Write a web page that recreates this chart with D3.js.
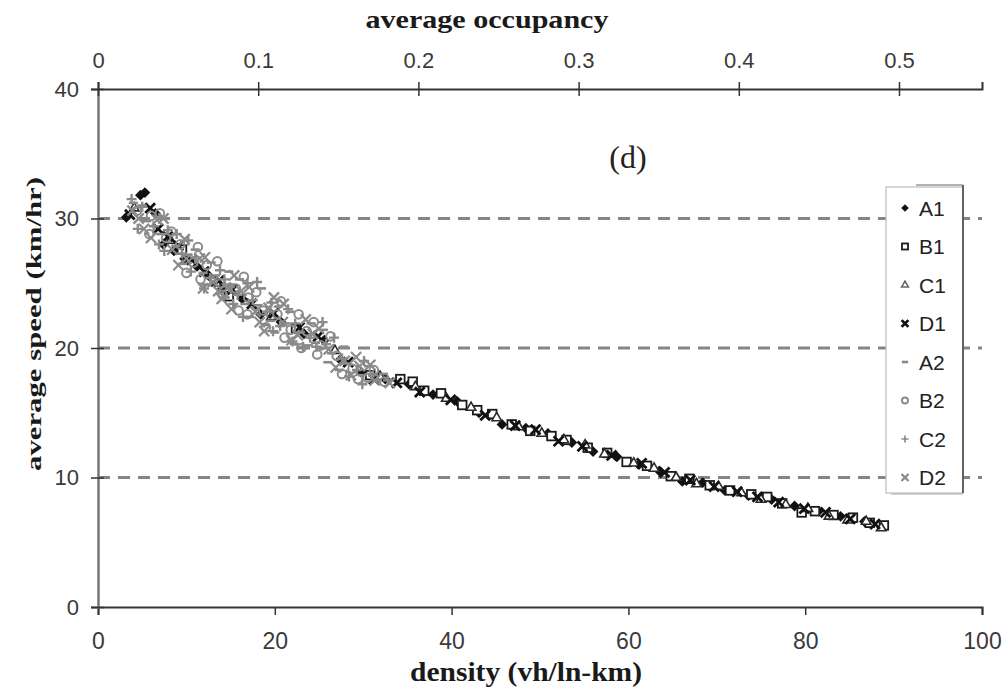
<!DOCTYPE html>
<html>
<head>
<meta charset="utf-8">
<script src="https://cdn.jsdelivr.net/npm/d3@7"></script>
<style>
  body { margin: 0; background: #fff; }
  .tick text { font-family: "Liberation Sans", Arial, sans-serif; fill: #3a3a3a; }
  .ttl { font-family: "Liberation Serif", "Times New Roman", serif; font-weight: bold; fill: #1a1a1a; }
</style>
</head>
<body>
<div id="chart"></div>
<script>
// density (vh/ln-km), speed (km/hr) pairs
var A1 = [[3.2,30.1],[4.8,31.8],[5.3,32.0],[6.5,30.4],[7.4,28.0],[8.6,27.5],[9.8,26.9],[11.2,26.3],[12.5,25.6],[14.1,24.6],
          [16.3,23.8],[18.4,22.6],[20.7,22.0],[23.3,21.1],[25.6,20.6],[27.4,19.1],[29.8,18.1],[32.5,17.6],[35.2,17.2],[37.9,16.4],
          [40.6,15.9],[43.1,15.0],[45.7,14.1],[48.4,13.8],[50.9,13.4],[53.6,12.7],[56.0,12.0],[58.7,11.6],[61.2,11.0],[63.5,10.5],
          [66.1,9.7],[68.4,9.6],[70.9,9.0],[73.6,8.6],[76.2,8.3],[78.8,7.8],[81.5,7.4],[84.0,7.0],[86.7,6.6]];
var B1 = [[9.5,27.6],[14.8,24.0],[22.4,21.5],[30.8,17.9],[34.2,17.6],[35.6,17.4],[36.9,16.7],[38.8,16.5],[41.2,15.6],[42.9,15.2],
          [44.6,14.9],[46.8,14.1],[48.9,13.6],[51.3,13.2],[53.0,12.9],[55.4,12.3],[57.6,11.9],[59.8,11.2],[62.1,10.9],[64.8,10.1],
          [66.9,9.9],[69.2,9.4],[71.5,9.0],[73.9,8.7],[75.7,8.5],[77.4,8.0],[79.6,7.3],[81.1,7.4],[83.2,7.1],[85.4,6.9],
          [87.3,6.5],[88.9,6.3]];
var C1 = [[4.1,30.8],[8.2,28.3],[13.4,25.0],[19.6,22.4],[26.8,19.8],[31.9,17.8],[35.9,17.0],[39.4,16.1],[42.2,15.4],[45.1,14.6],
          [47.6,13.9],[50.2,13.4],[52.7,12.9],[55.1,12.5],[57.3,11.8],[60.6,11.1],[62.9,10.7],[65.4,10.0],[67.7,9.5],[70.2,9.3],
          [72.8,8.8],[75.0,8.3],[77.8,7.9],[80.3,7.6],[82.7,7.0],[84.8,6.7],[86.9,6.6],[88.6,6.1]];
var D1 = [[3.6,30.3],[5.9,30.8],[6.8,29.2],[7.9,28.6],[9.1,27.9],[10.6,26.8],[12.0,25.9],[13.7,25.2],[15.2,24.5],[17.4,23.4],
          [19.9,22.7],[22.8,21.6],[24.9,20.9],[28.3,18.9],[31.2,17.6],[33.8,17.3],[36.4,16.6],[39.9,16.0],[43.8,14.8],[47.2,14.0],
          [49.5,13.7],[52.1,12.8],[54.8,12.4],[58.1,11.7],[61.5,11.1],[64.1,10.4],[67.0,9.8],[69.7,9.3],[72.3,8.9],[74.6,8.5],
          [77.0,8.1],[79.9,7.6],[82.3,7.3],[85.1,6.8],[87.9,6.4]];
var A2 = [[4.0,31.2],[5.5,29.8],[7.1,28.8],[8.8,27.9],[10.2,27.2],[11.9,25.8],[13.3,25.6],[15.0,24.9],[16.6,23.4],[18.1,23.3],
          [19.5,22.1],[21.2,21.9],[22.9,21.2],[24.6,20.4],[26.4,19.6],[28.1,18.8],[29.9,17.9],[31.6,17.5],
          [5.0,31.0],[9.6,26.5],[12.8,26.6],[14.4,23.9],[16.0,25.3],[18.9,21.8],[20.4,23.2],[23.8,20.2],[25.5,21.4],[27.3,18.3],[30.6,18.6],
          [11.0,27.6],[12.2,24.9],[14.8,25.9],[17.2,22.4],[18.5,24.6],[20.0,21.2],[21.7,22.8],[22.2,20.3],[24.1,21.9],[26.0,18.9],[27.8,20.1],[32.3,18.0]];
var B2 = [[4.4,30.6],[6.0,30.2],[7.7,28.5],[9.3,28.0],[10.8,26.6],[12.3,26.4],[13.9,25.0],[15.6,24.6],[17.0,23.9],[18.7,22.9],
          [20.3,22.6],[21.8,21.4],[23.6,21.3],[25.2,20.2],[27.0,19.4],[28.8,18.4],[30.5,17.7],[32.4,17.4],
          [5.8,28.8],[8.3,29.0],[11.6,25.3],[13.5,26.7],[16.9,22.6],[17.9,24.3],[21.1,20.8],[22.7,22.6],[24.8,19.5],[26.3,20.9],[29.4,17.6],
          [7.0,30.4],[10.0,25.8],[11.3,27.8],[14.1,24.1],[15.9,22.9],[16.5,25.5],[19.0,21.6],[20.7,23.6],[23.0,20.0],[24.4,22.0],[27.6,18.0],[31.2,18.3]];
var C2 = [[3.8,31.5],[5.0,30.9],[6.3,29.4],[7.9,29.1],[9.5,27.3],[11.0,27.0],[12.7,25.4],[14.3,25.3],[15.8,24.1],[17.5,23.7],
          [19.1,22.8],[20.6,21.7],[22.3,21.9],[24.0,20.8],[25.8,20.3],[27.6,19.2],[29.3,18.3],[31.1,17.9],[32.8,17.5],
          [6.9,28.0],[8.9,28.8],[10.5,25.9],[13.8,26.0],[15.3,23.4],[16.9,25.0],[19.8,21.3],[21.5,23.0],[23.2,20.1],[26.7,20.8],[28.4,17.8],[30.1,19.0],
          [4.5,29.2],[7.5,27.5],[10.2,28.3],[12.0,24.6],[14.9,24.7],[16.4,22.4],[18.0,25.1],[19.6,23.5],[22.0,20.5],[24.7,20.1],[25.4,22.0],[29.9,17.2]];
var D2 = [[4.6,30.0],[6.7,29.9],[8.4,27.6],[10.0,26.9],[11.5,26.9],[13.0,25.1],[14.6,24.6],[16.2,24.4],[17.8,22.8],[19.3,23.1],
          [20.9,22.0],[22.6,21.0],[24.3,21.1],[26.1,19.9],[27.9,19.0],[29.6,18.6],[31.3,17.5],[33.0,17.3],
          [5.2,29.2],[7.4,30.0],[9.1,26.4],[12.1,27.0],[14.0,23.8],[15.4,25.6],[18.3,22.0],[19.9,23.9],[21.9,20.6],[25.0,21.5],[28.6,17.9],[30.8,18.7],
          [3.9,30.6],[6.0,28.5],[9.8,28.4],[11.9,24.6],[13.6,24.4],[15.1,23.0],[17.1,24.7],[18.8,21.3],[21.0,23.4],[23.5,22.2],[26.9,18.5],[29.2,19.3]];

var seriesNames = ["A1","B1","C1","D1","A2","B2","C2","D2"];
var seriesData = [A1, B1, C1, D1, A2, B2, C2, D2];
var densityTicks = [0, 20, 40, 60, 80, 100];
var speedTicks = [0, 10, 20, 30, 40];
var gridTicks = [10, 20, 30];
var occTicks = [0, 0.1, 0.2, 0.3, 0.4, 0.5];

var W = 1007, H = 688;
var margin = {top: 89, right: 25, bottom: 81, left: 98};
var iw = W - margin.left - margin.right, ih = H - margin.top - margin.bottom;

var svg = d3.select("#chart").append("svg").attr("width", W).attr("height", H);
var g = svg.append("g").attr("transform", "translate(" + margin.left + "," + margin.top + ")");

var x = d3.scaleLinear().domain([0, 100]).range([0, iw]);
var y = d3.scaleLinear().domain([0, 40]).range([ih, 0]);
var xTop = d3.scaleLinear().domain([0, iw / 1602]).range([0, iw]);

// dashed gridlines
g.selectAll(".grid").data(gridTicks).enter().append("line")
  .attr("x1", 0).attr("x2", iw)
  .attr("y1", function(d){ return y(d); }).attr("y2", function(d){ return y(d); })
  .attr("stroke", "#858585").attr("stroke-width", 3).attr("stroke-dasharray", "12,8");

// axes
var gx = g.append("g").attr("transform", "translate(0," + ih + ")")
  .call(d3.axisBottom(x).tickValues(densityTicks).tickSize(8).tickPadding(18).tickFormat(d3.format("d")));
var gy = g.append("g")
  .call(d3.axisLeft(y).tickValues(speedTicks).tickSize(7).tickPadding(12).tickFormat(d3.format("d")));
var gt = g.append("g")
  .call(d3.axisTop(xTop).tickValues(occTicks).tickSize(7).tickPadding(14).tickFormat(function(d){ return d === 0 ? "0" : d3.format(".1f")(d); }));

gx.select(".domain").attr("stroke", "#333").attr("stroke-width", 2);
gx.selectAll(".tick line").attr("stroke", "#333").attr("stroke-width", 1.5);
gx.selectAll(".tick text").style("font-size", "23px");
gy.select(".domain").attr("stroke", "#777").attr("stroke-width", 2.5);
gy.selectAll(".tick line").attr("x1", 6).attr("stroke", "#333").attr("stroke-width", 1.5);
gy.selectAll(".tick text").style("font-size", "22px");
gt.select(".domain").attr("stroke", "#333").attr("stroke-width", 2);
gt.selectAll(".tick line").attr("y1", 7).attr("stroke", "#333").attr("stroke-width", 1.5);
gt.selectAll(".tick text").style("font-size", "22px");

// marker shapes (k scales them down for the legend)
function drawMarker(sel, name, k) {
  k = k || 1;
  if (name === "A1") {
    sel.append("path").attr("d", d3.symbol().type(d3.symbolDiamond2).size(75 * k * k)).attr("fill", "#111");
  } else if (name === "B1") {
    sel.append("rect").attr("x", -4.3 * k).attr("y", -4.3 * k).attr("width", 8.6 * k).attr("height", 8.6 * k)
      .attr("fill", "#fff").attr("stroke", "#1a1a1a").attr("stroke-width", 1.8);
  } else if (name === "C1") {
    sel.append("path").attr("d", d3.symbol().type(d3.symbolTriangle2).size(65 * k * k)).attr("fill", "#fff")
      .attr("stroke", k < 1 ? "#666" : "#2a2a2a").attr("stroke-width", 1.6);
  } else if (name === "D1") {
    sel.append("path").attr("d", d3.symbol().type(d3.symbolX).size(64 * k * k)).attr("fill", "none")
      .attr("stroke", "#111").attr("stroke-width", 2.8);
  } else if (name === "A2") {
    sel.append("line").attr("x1", -4.5 * k).attr("x2", 4.5 * k).attr("stroke", "#888").attr("stroke-width", 2.6);
  } else if (name === "B2") {
    sel.append("circle").attr("r", 4.3 * k).attr("fill", "none").attr("stroke", "#8c8c8c").attr("stroke-width", 2);
  } else if (name === "C2") {
    sel.append("path").attr("d", "M-5,0H5M0,-5V5")
      .attr("transform", "scale(" + k + ")").attr("stroke", "#8a8a8a").attr("stroke-width", 2.4);
  } else if (name === "D2") {
    sel.append("path").attr("d", d3.symbol().type(d3.symbolX).size(70 * k * k)).attr("fill", "none")
      .attr("stroke", "#8a8a8a").attr("stroke-width", 2.2);
  }
}

// points, drawn series by series (grey series end up on top)
seriesData.forEach(function(pts, i) {
  var name = seriesNames[i];
  g.append("g").attr("class", "series-" + name)
    .selectAll("g").data(pts).enter().append("g")
    .attr("transform", function(d){ return "translate(" + x(d[0]) + "," + y(d[1]) + ")"; })
    .each(function(){ drawMarker(d3.select(this), name); });
});

// legend
var lg = svg.append("g").attr("transform", "translate(886,187)");
lg.append("rect").attr("width", 77).attr("height", 306).attr("fill", "#fff").attr("stroke", "#bdbdbd").attr("stroke-width", 1.2);
lg.append("line").attr("x1", 77).attr("x2", 77).attr("y1", -2).attr("y2", 306).attr("stroke", "#444").attr("stroke-width", 1.6);
lg.append("line").attr("x1", 5).attr("x2", 77).attr("y1", 307).attr("y2", 307).attr("stroke", "#aaa").attr("stroke-width", 1.2);
lg.append("line").attr("x1", 30).attr("x2", 77).attr("y1", -2).attr("y2", -2).attr("stroke", "#666").attr("stroke-width", 1.2);
var li = lg.selectAll(".li").data(seriesNames).enter().append("g")
  .attr("transform", function(d, i){ return "translate(0," + (21 + i * 38.5) + ")"; });
li.each(function(d){
  var m = d3.select(this).append("g").attr("transform", "translate(19,0)");
  drawMarker(m, d, 0.7);
});
li.append("text").attr("x", 33).attr("y", 7.5).text(function(d){ return d; })
  .style("font-family", "Liberation Sans, Arial, sans-serif").style("font-size", "21px").attr("fill", "#222");

// titles
svg.append("text").attr("class", "ttl").attr("x", 487).attr("y", 28).attr("text-anchor", "middle")
  .style("font-size", "25px").attr("textLength", 243).attr("lengthAdjust", "spacingAndGlyphs").text("average occupancy");
svg.append("text").attr("class", "ttl").attr("x", 526).attr("y", 681).attr("text-anchor", "middle")
  .style("font-size", "27px").attr("textLength", 232).attr("lengthAdjust", "spacingAndGlyphs").text("density (vh/ln-km)");
svg.append("text").attr("class", "ttl").attr("transform", "translate(41,324) rotate(-90)").attr("text-anchor", "middle")
  .style("font-size", "22px").attr("textLength", 294).attr("lengthAdjust", "spacingAndGlyphs").text("average speed (km/hr)");
svg.append("text").attr("x", 628).attr("y", 168).attr("text-anchor", "middle")
  .style("font-family", "Liberation Serif, Times New Roman, serif").style("font-size", "32px").attr("fill", "#222").text("(d)");
</script>
</body>
</html>
